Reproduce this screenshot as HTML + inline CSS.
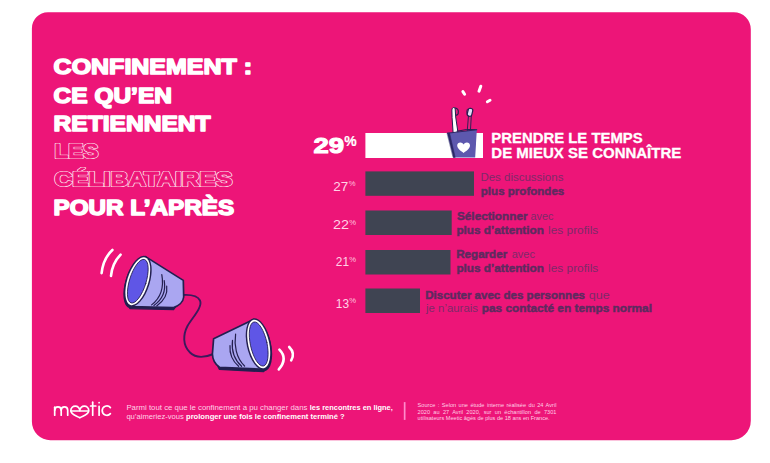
<!DOCTYPE html>
<html lang="fr">
<head>
<meta charset="utf-8">
<title>Confinement : ce qu'en retiennent les célibataires pour l'après</title>
<style>
html,body{margin:0;padding:0;background:#fff;}
body{width:770px;height:463px;overflow:hidden;font-family:"Liberation Sans",sans-serif;}
svg{display:block;position:absolute;left:0;top:0;}
text{font-family:"Liberation Sans",sans-serif;}
.t{font-weight:bold;font-size:21.2px;fill:#fff;stroke:#fff;stroke-width:1.5px;stroke-linejoin:round;}
.o{font-weight:bold;font-size:19.8px;fill:#ffe6f1;stroke:#ffe6f1;stroke-width:2.1px;stroke-linejoin:round;}
.oi{font-weight:bold;font-size:19.8px;fill:#ed1578;stroke:#ed1578;stroke-width:0.8px;stroke-linejoin:round;}
.h{font-weight:bold;font-size:14.3px;fill:#fff;stroke:#fff;stroke-width:0.3px;}
.b{font-weight:bold;font-size:11.3px;fill:#5e2a5f;stroke:#5e2a5f;stroke-width:0.45px;}
.l{font-weight:normal;font-size:11.3px;fill:#7d2a68;}
.n{font-weight:normal;font-size:13.6px;fill:#ffd3e6;}
.p{font-weight:normal;font-size:7.5px;fill:#ffc4dd;}
.q{font-weight:normal;font-size:7.7px;fill:#ffd2e6;}
.qb{font-weight:bold;font-size:7.7px;fill:#fff;}
.s{font-weight:normal;font-size:5.5px;fill:#ffd0e4;}
</style>
</head>
<body>
<svg width="770" height="463" viewBox="0 0 770 463">
<path d="M47.9 12.2 H733.8 A17 17 0 0 1 750.8 29.2 V420.7 A19.5 19.5 0 0 1 731.3 440.2 H50.4 A18.5 18.5 0 0 1 31.9 421.7 V28.2 A16 16 0 0 1 47.9 12.2 Z" fill="#ed1578"/>

<!-- Title -->
<g id="title">
<text class="t" x="53.6" y="74.2" textLength="198.5" lengthAdjust="spacingAndGlyphs">CONFINEMENT :</text>
<text class="t" x="53.6" y="102.5" textLength="118.3" lengthAdjust="spacingAndGlyphs">CE QU’EN</text>
<text class="t" x="53.6" y="130.6" textLength="157" lengthAdjust="spacingAndGlyphs">RETIENNENT</text>
<text class="o" x="54.4" y="158.4" textLength="44" lengthAdjust="spacingAndGlyphs">LES</text>
<text class="oi" x="54.4" y="158.4" textLength="44" lengthAdjust="spacingAndGlyphs">LES</text>
<text class="o" x="54.4" y="186.3" textLength="178" lengthAdjust="spacingAndGlyphs">CÉLIBATAIRES</text>
<text class="oi" x="54.4" y="186.3" textLength="178" lengthAdjust="spacingAndGlyphs">CÉLIBATAIRES</text>
<text class="t" x="53.6" y="214.9" textLength="180.5" lengthAdjust="spacingAndGlyphs">POUR L’APRÈS</text>
</g>

<!-- Bars -->
<rect x="365.4" y="133" width="117.6" height="25" fill="#fff"/>
<rect x="365.4" y="171.4" width="108.6" height="24.4" fill="#3f4452"/>
<rect x="365.4" y="210.5" width="86.3" height="24.5" fill="#3f4452"/>
<rect x="365.4" y="250" width="85.1" height="24.5" fill="#3f4452"/>
<rect x="365.4" y="288.5" width="54.6" height="24.5" fill="#3f4452"/>

<!-- Percent labels -->
<text x="313.5" y="153" textLength="30.6" lengthAdjust="spacingAndGlyphs" style="font-weight:bold;font-size:22.6px;fill:#fff;stroke:#fff;stroke-width:1.1px;stroke-linejoin:round">29</text>
<text x="344.3" y="146" textLength="12.4" lengthAdjust="spacingAndGlyphs" style="font-weight:bold;font-size:14px;fill:#fff;stroke:#fff;stroke-width:0.2px">%</text>
<text class="n" x="333.2" y="190.7" textLength="15" lengthAdjust="spacingAndGlyphs">27</text>
<text class="p" x="348.8" y="186.4" textLength="6.8" lengthAdjust="spacingAndGlyphs">%</text>
<text class="n" x="333" y="228.9" textLength="16" lengthAdjust="spacingAndGlyphs">22</text>
<text class="p" x="349.2" y="224.5" textLength="6.8" lengthAdjust="spacingAndGlyphs">%</text>
<text class="n" x="335.8" y="266.4" textLength="13.2" lengthAdjust="spacingAndGlyphs">21</text>
<text class="p" x="349.2" y="261.8" textLength="6.8" lengthAdjust="spacingAndGlyphs">%</text>
<text class="n" x="335.8" y="307.6" textLength="13.2" lengthAdjust="spacingAndGlyphs">13</text>
<text class="p" x="349.2" y="303" textLength="6.8" lengthAdjust="spacingAndGlyphs">%</text>

<!-- Heading -->
<text class="h" x="491.3" y="143.2" textLength="151.4" lengthAdjust="spacingAndGlyphs">PRENDRE LE TEMPS</text>
<text class="h" x="491.3" y="158" textLength="190" lengthAdjust="spacingAndGlyphs">DE MIEUX SE CONNAÎTRE</text>

<!-- Row texts -->
<text class="l" x="480.4" y="181.2" textLength="83" lengthAdjust="spacingAndGlyphs">Des discussions</text>
<text class="b" x="480.8" y="195" textLength="83.5" lengthAdjust="spacingAndGlyphs">plus profondes</text>

<text class="b" x="457" y="220.3" textLength="70.5" lengthAdjust="spacingAndGlyphs">Sélectionner</text>
<text class="l" x="530.5" y="220.3" textLength="23" lengthAdjust="spacingAndGlyphs">avec</text>
<text class="b" x="456.4" y="233.9" textLength="87.5" lengthAdjust="spacingAndGlyphs">plus d’attention</text>
<text class="l" x="548" y="233.9" textLength="50.3" lengthAdjust="spacingAndGlyphs">les profils</text>

<text class="b" x="456.2" y="258.3" textLength="51" lengthAdjust="spacingAndGlyphs">Regarder</text>
<text class="l" x="511.7" y="258.3" textLength="23.3" lengthAdjust="spacingAndGlyphs">avec</text>
<text class="b" x="456.4" y="272.3" textLength="87.5" lengthAdjust="spacingAndGlyphs">plus d’attention</text>
<text class="l" x="548" y="272.3" textLength="50.3" lengthAdjust="spacingAndGlyphs">les profils</text>

<text class="b" x="425.2" y="298.6" textLength="159.8" lengthAdjust="spacingAndGlyphs">Discuter avec des personnes</text>
<text class="l" x="588.7" y="298.6" textLength="21" lengthAdjust="spacingAndGlyphs">que</text>
<text class="l" x="426" y="312" textLength="52" lengthAdjust="spacingAndGlyphs">je n’aurais</text>
<text class="b" x="481.8" y="312" textLength="170.2" lengthAdjust="spacingAndGlyphs">pas contacté en temps normal</text>


<!-- Cups illustration -->
<g id="cups" fill="none" stroke-linecap="round" stroke-linejoin="round">
<!-- string -->
<path d="M182.5 295 C190 294.5 197.5 295.5 200 300.5 C203 307 192 318 187.5 326 C183 334.5 182.5 345.5 190 352.5 C196 358.5 205 357.5 213.5 354" stroke="#3b1a5c" stroke-width="1.9"/>
<!-- left waves -->
<path d="M112.4 250 Q103.2 258.5 101.6 273.2" stroke="#fff" stroke-width="2.6"/>
<path d="M120.6 254.6 Q112.2 263.3 111 275.9" stroke="#fff" stroke-width="2.6"/>
<!-- right waves -->
<path d="M279.4 349.6 Q288.2 358.5 278.8 369.4" stroke="#fff" stroke-width="2.6"/>
<path d="M289.2 347 Q295.4 353.2 291.2 360.4" stroke="#fff" stroke-width="2.6"/>
<!-- cup 1 -->
<ellipse rx="12" ry="26.4" transform="translate(137.2 283) rotate(17.2)" fill="#231f50"/>
<path d="M126.5 297 L130 308.6 L173.5 309.6 L176 306 Z" fill="#231f50" stroke="#231f50" stroke-width="1.4"/>
<path d="M145.5 256.6 L183.3 280.4 L183.7 297 C183.3 302 178.5 306 173 307.7 L130.5 306.6 Z" fill="#aaa6f1" stroke="#231f50" stroke-width="1.7"/>
<path d="M161.8 274.6 C163.5 284 163 296 151.6 304.9" stroke="#231f50" stroke-width="1.2"/>
<path d="M164.2 280.6 C165.5 288 164.5 298 153.9 305.4" stroke="#231f50" stroke-width="1.2"/>
<path d="M166.7 286.2 C167.5 292 166 299.5 156.7 305.9" stroke="#231f50" stroke-width="1.2"/>
<g transform="translate(137.8 281.2) rotate(17.2)">
<ellipse rx="12" ry="26.4" fill="#231f50"/>
<ellipse rx="10.5" ry="24.9" fill="#fff"/>
<ellipse rx="8.3" ry="22.7" fill="#5f56e6" stroke="#231f50" stroke-width="0.8"/>
</g>
<!-- cup 2 -->
<ellipse rx="12" ry="26.2" transform="translate(259.2 345.6) rotate(-12.3)" fill="#231f50"/>
<path d="M218 366.5 L219.5 369.4 L263.5 371.6 L268 366 Z" fill="#231f50" stroke="#231f50" stroke-width="1.4"/>
<path d="M253.5 319.4 L213.6 338.8 L212.4 354 C212.6 360 215.5 364.5 219.5 367.3 L264.5 369.3 Z" fill="#aaa6f1" stroke="#231f50" stroke-width="1.7"/>
<path d="M235.6 334.2 C234 345 236 358 244.6 366" stroke="#231f50" stroke-width="1.2"/>
<path d="M232.5 340.3 C231.5 349 233.5 359 241.6 366.3" stroke="#231f50" stroke-width="1.2"/>
<path d="M230 345.6 C229.5 352 231.5 360 238.6 366.3" stroke="#231f50" stroke-width="1.2"/>
<g transform="translate(258.7 344) rotate(-12.3)">
<ellipse rx="12" ry="26.2" fill="#231f50"/>
<ellipse rx="10.5" ry="24.7" fill="#fff"/>
<ellipse rx="8.3" ry="22.5" fill="#5f56e6" stroke="#231f50" stroke-width="0.8"/>
</g>
</g>

<!-- Toothbrush cup -->
<g id="tb" stroke-linecap="round" stroke-linejoin="round">
<path d="M462.9 91.6 L464.6 94.2" stroke="#fff" stroke-width="3" fill="none"/>
<path d="M480.8 86.2 L479 91.2" stroke="#fff" stroke-width="3" fill="none"/>
<path d="M490 100.3 L487.4 101.7" stroke="#fff" stroke-width="3" fill="none"/>
<!-- brush 1 (white) -->
<path d="M454.6 108.2 C457.5 107.6 459 110.5 458.2 113.5 C457.6 115.3 456 115.6 454.8 114.6 Z" fill="#e3207e" stroke="#231f50" stroke-width="1.2"/>
<path d="M451.9 109.6 C452 107 455 106.7 455.2 109 L455.7 117 L458.2 134 L453.2 134 L452.1 118 Z" fill="#fff" stroke="#231f50" stroke-width="1"/>
<!-- brush 2 (pink handle) -->
<path d="M468.9 115.5 L471.3 115.8 L470.4 131 L467.6 131 Z" fill="#e3207e" stroke="#231f50" stroke-width="0.9"/>
<path d="M467.2 109.5 C466.2 111.5 466.6 114.5 468.6 116.2 L470 112 Z" fill="#c2186e" stroke="#231f50" stroke-width="0.8"/>
<rect x="-2.3" y="-4" width="4.6" height="8" rx="2" transform="translate(470 112.3) rotate(14)" fill="#e4dcf6" stroke="#231f50" stroke-width="1.2"/>
<!-- cup -->
<path d="M457 131.2 Q466 128.6 476.6 129.6" stroke="#231f50" stroke-width="1" fill="none"/>
<path d="M447.4 133.2 L476.8 129.8 L475.2 157.4 L453.4 157.4 Z" fill="#5d58ae" stroke="none"/>
<path d="M447.4 133.2 L449.6 133 L455.2 157.4 L453.4 157.4 Z" fill="#2b2766" stroke="#2b2766" stroke-width="0.5"/>
<path d="M447.4 133.2 L476.8 129.8" stroke="#2b2766" stroke-width="1" fill="none"/>
<!-- heart -->
<path d="M463.6 153 C460.5 150.8 457.2 148.6 457.2 145.6 C457.2 143.7 458.7 142.5 460.3 142.5 C461.7 142.5 463 143.3 463.6 144.6 C464.2 143.3 465.5 142.5 466.9 142.5 C468.5 142.5 470 143.7 470 145.6 C470 148.6 466.7 150.8 463.6 153 Z" fill="#fff" stroke="none"/>
</g>

<!-- meetic logo -->
<g id="logo" fill="none" stroke="#fff" stroke-width="1.7" stroke-linecap="round" stroke-linejoin="round">
<path d="M54.7 415.2 L54.7 407.2"/>
<path d="M54.7 410.2 C54.7 405.7 61.2 405.7 61.2 410.2 L61.2 415.2"/>
<path d="M61.2 410.2 C61.2 405.7 67.7 405.7 67.7 410.2 L67.7 415.2"/>
<path d="M79.8 410.6 C79.8 404.7 70.8 404.7 70.8 410.8 C70.8 414.5 76 415.6 79.8 417.8 C83.6 415.6 88.8 414.5 88.8 410.8 C88.8 404.7 79.8 404.7 79.8 410.6"/>
<path d="M71.4 411 L88.2 411"/>
<path d="M92.7 402.2 L92.7 415.2"/>
<path d="M90.6 406 L95.8 406"/>
<path d="M99.1 406.4 L99.1 415.2"/>
<path d="M99.1 402.5 L99.1 402.7"/>
<path d="M110.4 407.6 C107.6 404.2 102.2 406.2 102.2 410.6 C102.2 415 107.6 417 110.4 413.6"/>
</g>

<!-- Footer -->
<text class="q" x="126.4" y="409.8" textLength="181" lengthAdjust="spacingAndGlyphs">Parmi tout ce que le confinement a pu changer dans</text>
<text class="qb" x="309.8" y="409.8" textLength="83" lengthAdjust="spacingAndGlyphs">les rencontres en ligne,</text>
<text class="q" x="126.4" y="418.5" textLength="57.5" lengthAdjust="spacingAndGlyphs">qu’aimeriez-vous</text>
<text class="qb" x="186" y="418.5" textLength="158.7" lengthAdjust="spacingAndGlyphs">prolonger une fois le confinement terminé ?</text>
<rect x="403.8" y="402.1" width="1.7" height="17.8" fill="#ff8ccb"/>
<text class="s" x="417.6" y="407.2" textLength="138.8" lengthAdjust="spacingAndGlyphs" style="word-spacing:0.9px">Source : Selon une étude interne réalisée du 24 Avril</text>
<text class="s" x="417.6" y="413.7" textLength="138.8" lengthAdjust="spacingAndGlyphs" style="word-spacing:1.8px">2020 au 27 Avril 2020, sur un échantillon de 7301</text>
<text class="s" x="417.6" y="420.1" textLength="132" lengthAdjust="spacingAndGlyphs">utilisateurs Meetic âgés de plus de 18 ans en France.</text>
</svg>
</body>
</html>
